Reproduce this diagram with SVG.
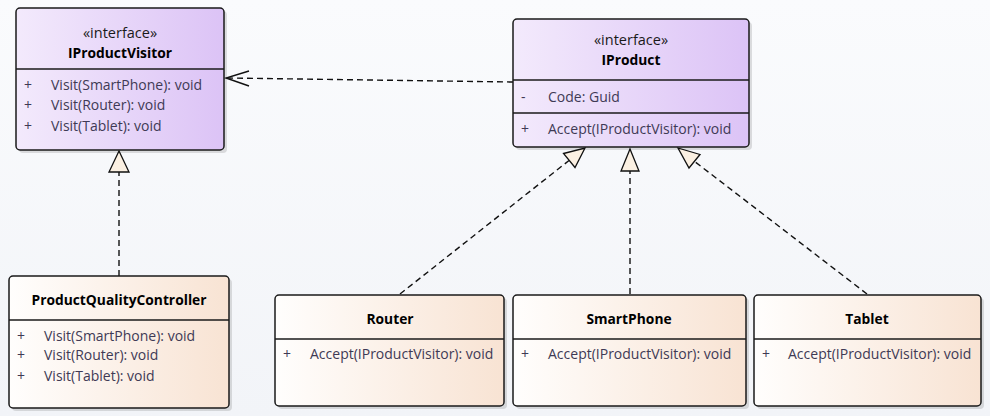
<svg xmlns="http://www.w3.org/2000/svg" width="990" height="416" viewBox="0 0 990 416">
<defs>
<linearGradient id="gIf" x1="0" y1="0" x2="1" y2="0">
<stop offset="0" stop-color="#F3EAFC"/>
<stop offset="1" stop-color="#DCC3F6"/>
</linearGradient>
<linearGradient id="gCl" x1="0" y1="0" x2="1" y2="0">
<stop offset="0" stop-color="#FFFEFD"/>
<stop offset="1" stop-color="#F8E3D3"/>
</linearGradient>
<linearGradient id="gBg" x1="0" y1="0" x2="0" y2="1">
<stop offset="0" stop-color="#FAFBFD"/>
<stop offset="1" stop-color="#F2F4F8"/>
</linearGradient>
</defs>
<style>
.box{stroke:#1a1a1a;stroke-width:1.5}
.shadow{fill:#000;opacity:0.12}
.sep{stroke:#1a1a1a;stroke-width:1.3}
.t{font-family:"Open Sans","Noto Sans","DejaVu Sans",sans-serif;font-size:14px}
.st{fill:#1a1a1a;text-anchor:middle;font-size:14.5px}
.nm{fill:#000;font-weight:bold;text-anchor:middle;font-size:13.8px}
.mb{fill:#3f3a55}
.dash{fill:none;stroke:#111;stroke-width:1.4;stroke-dasharray:6,4}
.arr{fill:none;stroke:#111;stroke-width:1.4}
.tri{fill:#FBF0E2;stroke:#111;stroke-width:1.3;stroke-linejoin:miter}
</style>
<rect x="0" y="0" width="990" height="416" fill="url(#gBg)"/>

<g id="connectors">
<line class="dash" x1="513" y1="82" x2="227" y2="78"/>
<path class="arr" d="M249,71 L226,78 L249,86"/>
<line class="dash" x1="119" y1="276" x2="119" y2="172"/>
<polygon class="tri" points="119,151 109,172 129,172"/>
<line class="dash" x1="400" y1="294" x2="569" y2="160.5"/>
<polygon class="tri" points="585,148 575,167.5 563.5,153.5"/>
<line class="dash" x1="630" y1="294" x2="630" y2="171"/>
<polygon class="tri" points="630,149 621,171 639,171"/>
<line class="dash" x1="867" y1="294" x2="694" y2="161"/>
<polygon class="tri" points="678,148 700,154.5 689,168"/>
</g>

<g id="IProductVisitor">
<rect class="shadow" x="19" y="11" width="208" height="142" rx="4"/>
<rect class="box" x="16" y="8" width="208" height="142" rx="4" fill="url(#gIf)"/>
<line class="sep" x1="16" y1="69" x2="224" y2="69"/>
<text class="t st" x="120" y="38">«interface»</text>
<text class="t nm" x="120" y="58">IProductVisitor</text>
<text class="t mb" x="24" y="90">+</text><text class="t mb" x="51" y="90">Visit(SmartPhone): void</text>
<text class="t mb" x="24" y="110">+</text><text class="t mb" x="51" y="110">Visit(Router): void</text>
<text class="t mb" x="24" y="131">+</text><text class="t mb" x="51" y="131">Visit(Tablet): void</text>
</g>

<g id="IProduct">
<rect class="shadow" x="516" y="22" width="236" height="128" rx="4"/>
<rect class="box" x="513" y="19" width="236" height="128" rx="4" fill="url(#gIf)"/>
<line class="sep" x1="513" y1="80" x2="749" y2="80"/>
<line class="sep" x1="513" y1="113" x2="749" y2="113"/>
<text class="t st" x="631" y="45">«interface»</text>
<text class="t nm" x="631" y="65">IProduct</text>
<text class="t mb" x="521" y="102">-</text><text class="t mb" x="548" y="102">Code: Guid</text>
<text class="t mb" x="521" y="134">+</text><text class="t mb" x="548" y="134">Accept(IProductVisitor): void</text>
</g>

<g id="ProductQualityController">
<rect class="shadow" x="12" y="279" width="220" height="132" rx="4"/>
<rect class="box" x="9" y="276" width="220" height="132" rx="4" fill="url(#gCl)"/>
<line class="sep" x1="9" y1="320" x2="229" y2="320"/>
<text class="t nm" x="119" y="305">ProductQualityController</text>
<text class="t mb" x="17" y="341">+</text><text class="t mb" x="44" y="341">Visit(SmartPhone): void</text>
<text class="t mb" x="17" y="360">+</text><text class="t mb" x="44" y="360">Visit(Router): void</text>
<text class="t mb" x="17" y="381">+</text><text class="t mb" x="44" y="381">Visit(Tablet): void</text>
</g>

<g id="Router">
<rect class="shadow" x="278" y="298" width="229" height="111" rx="4"/>
<rect class="box" x="275" y="295" width="229" height="111" rx="4" fill="url(#gCl)"/>
<line class="sep" x1="275" y1="339" x2="504" y2="339"/>
<text class="t nm" x="390" y="324">Router</text>
<text class="t mb" x="283" y="359">+</text><text class="t mb" x="310" y="359">Accept(IProductVisitor): void</text>
</g>

<g id="SmartPhone">
<rect class="shadow" x="516" y="298" width="233" height="111" rx="4"/>
<rect class="box" x="513" y="295" width="233" height="111" rx="4" fill="url(#gCl)"/>
<line class="sep" x1="513" y1="339" x2="746" y2="339"/>
<text class="t nm" x="629" y="324">SmartPhone</text>
<text class="t mb" x="521" y="359">+</text><text class="t mb" x="548" y="359">Accept(IProductVisitor): void</text>
</g>

<g id="Tablet">
<rect class="shadow" x="757" y="298" width="227" height="111" rx="4"/>
<rect class="box" x="754" y="295" width="227" height="111" rx="4" fill="url(#gCl)"/>
<line class="sep" x1="754" y1="339" x2="981" y2="339"/>
<text class="t nm" x="867" y="324">Tablet</text>
<text class="t mb" x="762" y="359">+</text><text class="t mb" x="788" y="359">Accept(IProductVisitor): void</text>
</g>
</svg>
